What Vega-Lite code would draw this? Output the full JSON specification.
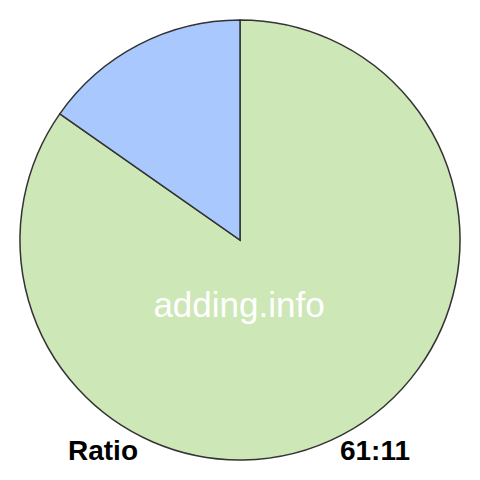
{
  "$schema": "https://vega.github.io/schema/vega-lite/v6.json",
  "width": 480,
  "height": 480,
  "padding": 0,
  "autosize": {"type": "fit", "contains": "padding"},
  "background": "white",
  "view": {"stroke": null},
  "layer": [
    {
      "data": {"values": [
        {"part": "61", "value": 61, "ord": 1},
        {"part": "11", "value": 11, "ord": 2}
      ]},
      "mark": {"type": "arc", "radius": 220, "stroke": "#333333", "strokeWidth": 1.5},
      "encoding": {
        "theta": {"field": "value", "type": "quantitative", "stack": true},
        "order": {"field": "ord", "type": "quantitative"},
        "color": {"field": "part", "type": "nominal", "scale": {"domain": ["61", "11"], "range": ["#cde7b7", "#a9c8fd"]}, "legend": null}
      }
    },
    {
      "data": {"values": [
        {"text": "Ratio", "role": "footer"},
        {"text": "61:11", "role": "footer"}
      ]},
      "mark": {"type": "text", "font": "Liberation Sans", "fontSize": 28, "fontWeight": "bold", "baseline": "alphabetic", "align": "center", "color": "black"},
      "encoding": {
        "x": {"field": "text", "type": "nominal", "scale": {"type": "point", "domain": ["Ratio", "adding.info", "61:11"], "range": [103, 375], "padding": 0}, "axis": null},
        "y": {"field": "role", "type": "nominal", "scale": {"type": "point", "domain": ["watermark", "footer"], "range": [317, 460], "padding": 0}, "axis": null},
        "text": {"field": "text"}
      }
    },
    {
      "data": {"values": [
        {"text": "adding.info", "role": "watermark"}
      ]},
      "mark": {"type": "text", "font": "Liberation Sans", "fontSize": 35, "baseline": "alphabetic", "align": "center", "color": "white"},
      "encoding": {
        "x": {"field": "text", "type": "nominal", "scale": {"type": "point", "domain": ["Ratio", "adding.info", "61:11"], "range": [103, 375], "padding": 0}, "axis": null},
        "y": {"field": "role", "type": "nominal", "scale": {"type": "point", "domain": ["watermark", "footer"], "range": [317, 460], "padding": 0}, "axis": null},
        "text": {"field": "text"}
      }
    }
  ]
}
